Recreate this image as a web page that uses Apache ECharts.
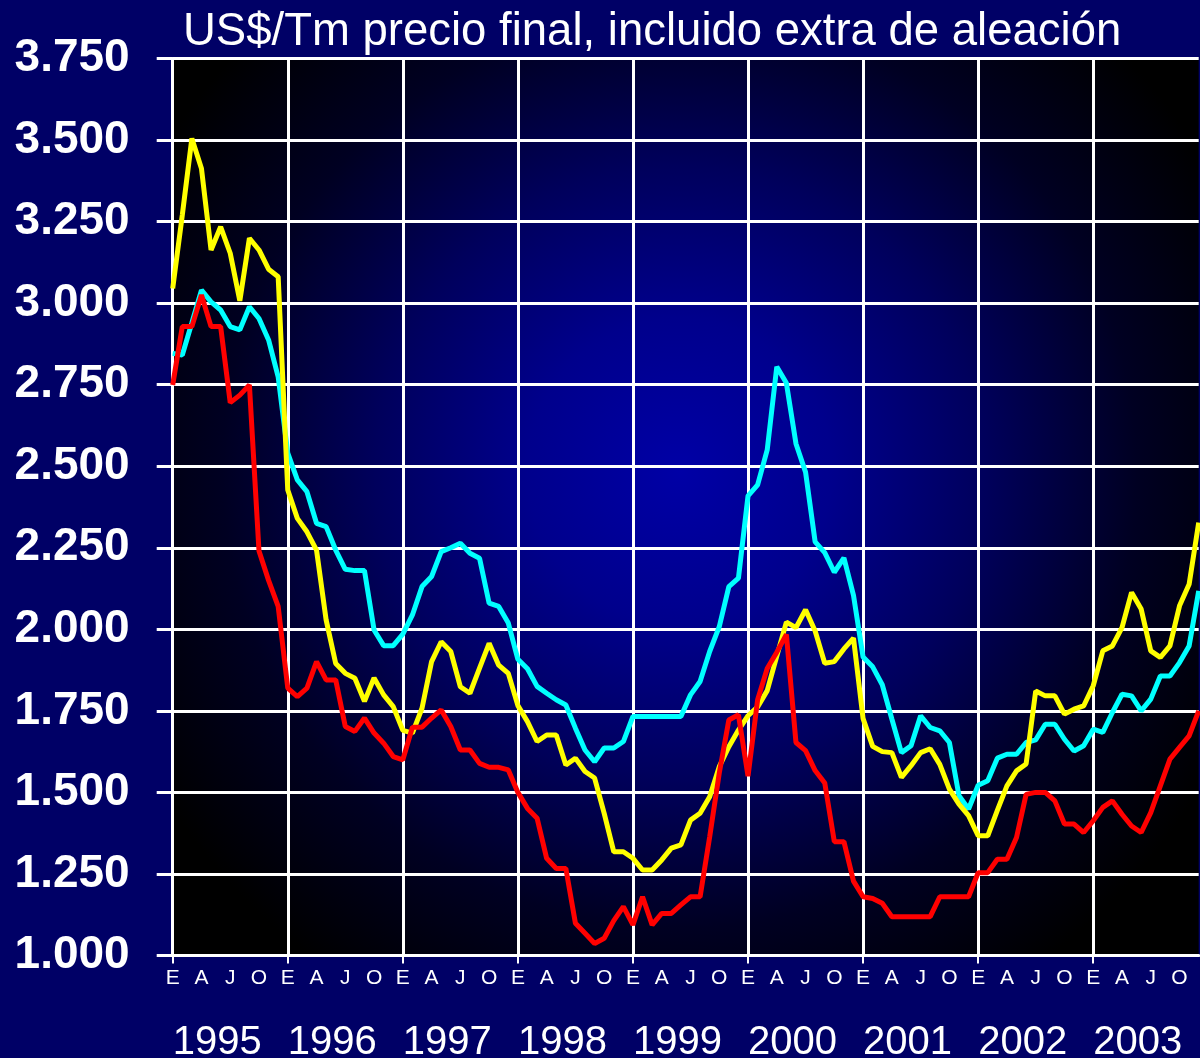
<!DOCTYPE html>
<html>
<head>
<meta charset="utf-8">
<script src="https://cdn.jsdelivr.net/npm/echarts@6/dist/echarts.min.js"></script>
<style>
html,body{margin:0;padding:0;background:#000066;}
#c{width:1200px;height:1058px;}
</style>
</head>
<body>
<div id="c"></div>
<script>
const titleText = 'US$/Tm precio final, incluido extra de aleación';
const years = ['1995','1996','1997','1998','1999','2000','2001','2002','2003'];
const monthLetters = ['E','F','M','A','M','J','J','A','S','O','N','D'];
const yTicks = [1000,1250,1500,1750,2000,2250,2500,2750,3000,3250,3500,3750];

const cyanData = [
 2846,2841,2940,3040,3004,2979,2928,2918,2989,2953,2887,2774,
 2540,2458,2422,2325,2315,2243,2184,2180,2180,1998,1950,1950,
 1985,2044,2131,2162,2238,2250,2264,2233,2218,2080,2070,2019,
 1908,1879,1825,1804,1784,1768,1697,1630,1594,1636,1636,1656,
 1733,1733,1733,1733,1733,1733,1799,1840,1932,2008,2131,2157,
 2409,2443,2550,2805,2755,2569,2482,2268,2235,2175,2219,2104,
 1915,1885,1830,1725,1622,1643,1735,1699,1689,1653,1490,1449,
 1522,1536,1605,1617,1617,1653,1661,1709,1709,1663,1627,1643,
 1694,1684,1745,1801,1796,1750,1786,1857,1857,1898,1949,2118
];
const yellowData = [
 3045,3270,3505,3413,3163,3234,3153,3007,3199,3163,3104,3081,
 2427,2340,2299,2243,2029,1895,1865,1850,1779,1851,1799,1763,
 1690,1682,1758,1901,1962,1932,1824,1804,1881,1957,1890,1865,
 1766,1717,1656,1676,1676,1584,1605,1564,1544,1436,1318,1318,
 1298,1262,1262,1293,1329,1339,1415,1436,1487,1579,1640,1691,
 1735,1762,1812,1918,2022,2005,2060,1995,1896,1901,1940,1973,
 1726,1641,1625,1622,1546,1582,1622,1634,1586,1510,1464,1429,
 1367,1367,1445,1520,1566,1587,1811,1796,1796,1740,1755,1765,
 1827,1934,1949,2005,2113,2062,1934,1914,1949,2072,2138,2327
];
const redData = [
 2749,2928,2928,3025,2928,2928,2695,2718,2749,2240,2150,2070,
 1820,1794,1820,1901,1845,1845,1702,1687,1728,1682,1651,1610,
 1600,1700,1700,1728,1753,1702,1630,1630,1589,1577,1577,1569,
 1500,1451,1421,1298,1267,1267,1099,1068,1037,1053,1107,1150,
 1094,1180,1094,1129,1129,1155,1180,1180,1364,1559,1722,1738,
 1550,1784,1880,1930,1984,1653,1628,1567,1529,1349,1349,1228,
 1180,1175,1160,1119,1119,1119,1119,1119,1180,1180,1180,1180,
 1254,1254,1295,1295,1362,1494,1500,1500,1474,1403,1403,1377,
 1413,1454,1474,1433,1397,1377,1438,1520,1602,1638,1673,1750
];

const categories = [];
years.forEach(y => monthLetters.forEach((m, k) => categories.push(y + '-' + (k + 1))));

const FONT = "'Liberation Sans', Arial, sans-serif";
const WHITE = '#ffffff';

function fmtY(v) {
  const t = Math.floor(v / 1000);
  const r = String(Math.round(v % 1000)).padStart(3, '0');
  return t + '.' + r;
}

const chart = echarts.init(document.getElementById('c'), null, {renderer: 'canvas'});
const option = {
  animation: false,
  backgroundColor: '#000066',
  title: {
    text: titleText,
    left: 183,
    top: 9,
    padding: 0,
    textStyle: {color: WHITE, fontSize: 45.5, fontWeight: 'normal', fontFamily: FONT}
  },
  grid: {
    left: 172.7, right: 1.3, top: 58.5, bottom: 102.5,
    containLabel: false,
    outerBoundsMode: 'none',
    show: true, borderWidth: 0,
    backgroundColor: new echarts.graphic.RadialGradient(0.494, 0.46, 0.68, [
      {offset: 0, color: '#0000a6'},
      {offset: 0.25, color: '#00008c'},
      {offset: 0.5, color: '#00005c'},
      {offset: 0.75, color: '#000022'},
      {offset: 1, color: '#000000'}
    ])
  },
  xAxis: [
    {
      type: 'category',
      data: categories,
      boundaryGap: false,
      axisLine: {show: true, lineStyle: {color: WHITE, width: 3}},
      axisTick: {show: true, interval: (i) => i % 12 === 0, length: 8, lineStyle: {color: WHITE, width: 2}},
      axisLabel: {
        interval: (i) => i % 3 === 0,
        formatter: (v, i) => monthLetters[i % 12],
        color: WHITE, fontSize: 21, fontFamily: FONT, margin: 12
      },
      splitLine: {show: true, interval: (i) => i % 12 === 0, lineStyle: {color: WHITE, width: 3}}
    },
    {
      type: 'category',
      data: categories,
      boundaryGap: false,
      position: 'bottom',
      axisLine: {show: false},
      axisTick: {show: false},
      splitLine: {show: false},
      axisLabel: {
        interval: (i) => i % 12 === 0,
        formatter: (v, i) => years[Math.floor(i / 12)],
        color: WHITE, fontSize: 40, fontFamily: FONT, align: 'left', margin: 67
      }
    }
  ],
  yAxis: {
    type: 'value',
    min: yTicks[0],
    max: yTicks[yTicks.length - 1],
    interval: 250,
    axisLine: {show: true, lineStyle: {color: WHITE, width: 3}},
    axisTick: {show: true, length: 16, lineStyle: {color: WHITE, width: 3}},
    axisLabel: {
      formatter: fmtY, color: WHITE, fontSize: 46, fontWeight: 'bold', fontFamily: FONT, margin: 43
    },
    splitLine: {show: true, lineStyle: {color: WHITE, width: 3}}
  },
  series: [
    {name: 'cyan', type: 'line', data: cyanData, xAxisIndex: 0, symbol: 'none', lineStyle: {color: '#00ffff', width: 5}, itemStyle: {color: '#00ffff'}},
    {name: 'yellow', type: 'line', data: yellowData, xAxisIndex: 0, symbol: 'none', lineStyle: {color: '#ffff00', width: 5}, itemStyle: {color: '#ffff00'}},
    {name: 'red', type: 'line', data: redData, xAxisIndex: 0, symbol: 'none', lineStyle: {color: '#ff0000', width: 5}, itemStyle: {color: '#ff0000'}}
  ]
};
chart.setOption(option);
</script>
</body>
</html>
